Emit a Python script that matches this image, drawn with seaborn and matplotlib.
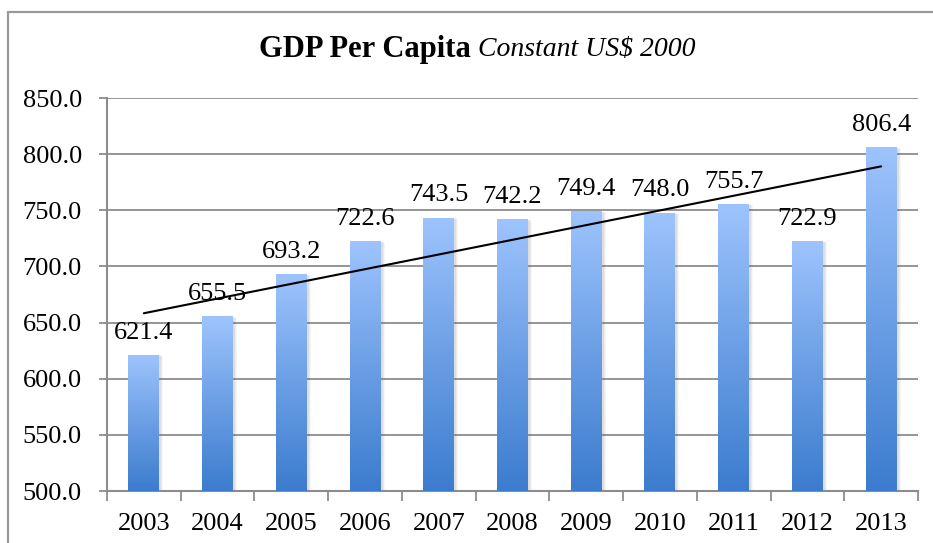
import numpy as np
import pandas as pd
import matplotlib
matplotlib.use("Agg")
import matplotlib.pyplot as plt
import matplotlib.transforms as mtransforms
from matplotlib.colors import LinearSegmentedColormap
from matplotlib.patches import Rectangle
import seaborn as sns

years = ["2003", "2004", "2005", "2006", "2007", "2008", "2009", "2010", "2011", "2012", "2013"]
gdp = [621.4, 655.5, 693.2, 722.6, 743.5, 742.2, 749.4, 748.0, 755.7, 722.9, 806.4]
title_main = "GDP Per Capita"
title_sub = "Constant US$ 2000"
y_ticks = [500, 550, 600, 650, 700, 750, 800, 850]

sns.set_style("white")
plt.rcParams["font.family"] = ["Liberation Serif", "DejaVu Serif"]
plt.rcParams["text.color"] = "black"
plt.rcParams["xtick.color"] = "black"
plt.rcParams["ytick.color"] = "black"

W, H = 933, 543
fig = plt.figure(figsize=(W / 100, H / 100), dpi=100)
ax = fig.add_axes([107 / W, 1 - 491 / H, (918 - 107) / W, (491 - 98) / H])

df = pd.DataFrame({"year": years, "gdp": gdp})
sns.barplot(data=df, x="year", y="gdp", color="#6699e0", width=0.42, ax=ax,
            saturation=1, linewidth=0, edgecolor="none", zorder=3)

ax.set_ylim(500, 850)
ax.set_xlim(-0.5, len(years) - 0.5)

grey = "#8c8c8c"
# gradient fill + soft shadow for bars
cmap = LinearSegmentedColormap.from_list("g", ["#3c7cce", "#6b9fe5", "#9ec4fd"])
grad = np.linspace(0, 1, 256).reshape(-1, 1)
for p in list(ax.patches):
    p.set_linewidth(0)
    x0, w, h = p.get_x(), p.get_width(), p.get_height()
    top = p.get_y() + h
    for dx, a in [(4.0, 0.06), (3.0, 0.08), (2.0, 0.10)]:
        sh = Rectangle((x0, 500), w, top - 500, facecolor="#707070", alpha=a,
                       edgecolor="none", zorder=2.5,
                       transform=mtransforms.offset_copy(ax.transData, fig=fig, x=dx, y=-dx * 0.4, units="dots"))
        ax.add_patch(sh)
    im = ax.imshow(grad, extent=[x0, x0 + w, 500, top], origin="lower", aspect="auto",
                   cmap=cmap, zorder=3.5, interpolation="bilinear")
    im.set_clip_path(p)
ax.set_ylim(500, 850)
ax.set_xlim(-0.5, len(years) - 0.5)

# trendline (linear least squares, like Excel)
xs = np.arange(len(years))
coef = np.polyfit(xs, gdp, 1)
ax.plot(xs, np.polyval(coef, xs), color="black", lw=1.5, zorder=5)

# data labels
for xi, v in zip(xs, gdp):
    ax.annotate(f"{v:.1f}", (xi, v), xytext=(0, 8), textcoords="offset points",
                ha="center", va="bottom", fontsize=19, color="black", zorder=6)

# grid and axes
ax.set_yticks(y_ticks)
ax.set_yticklabels([f"{t:.1f}" for t in y_ticks])
ax.yaxis.grid(True, color=grey, lw=1.3, zorder=0)
ax.set_axisbelow(True)
for s in ["top", "right"]:
    ax.spines[s].set_visible(False)
for s in ["left", "bottom"]:
    ax.spines[s].set_color(grey)
    ax.spines[s].set_linewidth(1.5)
ax.set_xlabel("")
ax.set_ylabel("")
ax.tick_params(axis="y", which="both", length=6, width=1.3, color=grey, pad=12,
               labelsize=19, labelcolor="black", left=True, direction="out")
ax.set_xticks(xs)
ax.set_xticklabels(years)
ax.tick_params(axis="x", length=0, pad=16, labelsize=19, labelcolor="black")
ax.set_xticks(np.arange(-0.5, len(years)), minor=True)
ax.tick_params(axis="x", which="minor", length=7, width=1.3, color=grey, direction="out", bottom=True)

# outer chart border
fig.patches.append(Rectangle((8 / W, -0.1), 1.2, 1.1 - 12 / H, transform=fig.transFigure,
                             facecolor="none", edgecolor="#999999", lw=1.6, zorder=0))

# two-part title, centered
t1 = fig.text(0, 1 - 49 / H, title_main, fontsize=22, fontweight="bold", va="center", ha="left",
              color="black")
t2 = fig.text(0, 1 - 49 / H, " " + title_sub, fontsize=20, fontstyle="italic", va="center", ha="left",
              color="black")
fig.canvas.draw()
r = fig.canvas.get_renderer()
w1 = t1.get_window_extent(r).width
w2 = t2.get_window_extent(r).width
cx = 477.5
start = cx - (w1 + w2) / 2
t1.set_x(start / W)
t2.set_x((start + w1) / W)

fig.savefig("out.png", dpi=100)
